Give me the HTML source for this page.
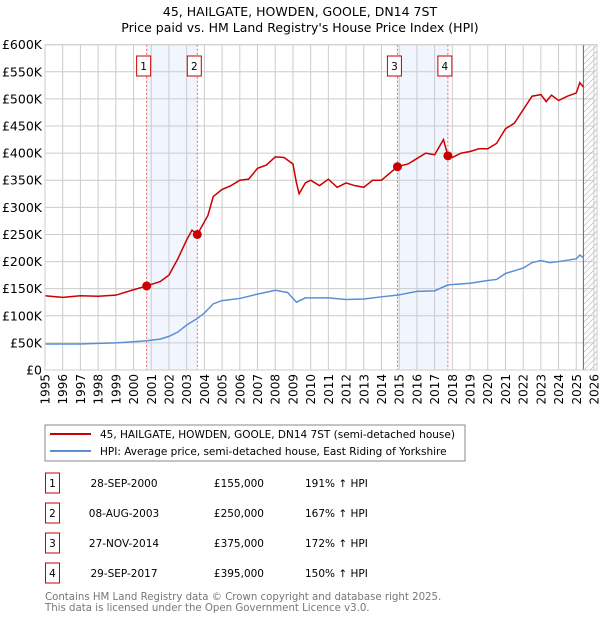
<!DOCTYPE html>
<html><head><meta charset="utf-8"><style>
body{margin:0;background:#fff;width:600px;height:620px;overflow:hidden;font-family:"DejaVu Sans","Liberation Sans",sans-serif}
svg text{font-family:"DejaVu Sans","Liberation Sans",sans-serif}
</style></head><body>
<svg id="chart" width="600" height="620" xmlns="http://www.w3.org/2000/svg">
<text x="300" y="16" text-anchor="middle" font-size="12.5">45, HAILGATE, HOWDEN, GOOLE, DN14 7ST</text>
<text x="300" y="32" text-anchor="middle" font-size="12.5">Price paid vs. HM Land Registry's House Price Index (HPI)</text>
<g id="plot"></g>
<g>
<rect x="45" y="425" width="420" height="36" fill="#fff" stroke="#888"/>
<line x1="50" y1="434" x2="91" y2="434" stroke="#cc0000" stroke-width="2"/>
<text x="100" y="438" font-size="10.5">45, HAILGATE, HOWDEN, GOOLE, DN14 7ST (semi-detached house)</text>
<line x1="50" y1="451" x2="91" y2="451" stroke="#5b8fd4" stroke-width="2"/>
<text x="100" y="455" font-size="10.5">HPI: Average price, semi-detached house, East Riding of Yorkshire</text>
</g>
<g id="table" font-size="10.5"></g>
<text x="45" y="600" font-size="10.2" fill="#777">Contains HM Land Registry data © Crown copyright and database right 2025.</text>
<text x="45" y="611" font-size="10.2" fill="#777">This data is licensed under the Open Government Licence v3.0.</text>
</svg>
<script>
const redYears=[1995,1996,1997,1998,1999,2000,2000.74,2001.5,2002,2002.5,2003,2003.3,2003.6,2004.2,2004.5,2005,2005.5,2006,2006.5,2007,2007.5,2008,2008.5,2009,2009.2,2009.35,2009.7,2010,2010.5,2011,2011.5,2012,2012.5,2013,2013.5,2014,2014.9,2015.5,2016,2016.5,2017,2017.5,2017.75,2018,2018.5,2019,2019.5,2020,2020.5,2021,2021.5,2022,2022.5,2023,2023.3,2023.6,2024,2024.5,2025,2025.2,2025.4];
const redValues=[137,134,137,136,138,148,155,163,175,205,240,258,250,285,320,333,340,350,352,372,378,393,392,380,345,325,345,350,340,352,337,345,340,337,350,350,375,380,390,400,397,425,395,392,400,403,408,408,418,445,455,480,505,508,495,507,497,505,511,530,522];
const hpiYears=[1995,1997,1998,1999,2000,2000.74,2001.5,2002,2002.5,2003,2003.6,2004,2004.5,2005,2006,2007,2008,2008.7,2009.2,2009.7,2011,2012,2013,2014,2014.9,2016,2017,2017.75,2019,2020,2020.5,2021,2022,2022.5,2023,2023.5,2024,2025,2025.2,2025.4];
const hpiValues=[48,48,49,50,52,54,57,62,70,83,95,105,122,128,132,140,147,143,125,133,133,130,131,135,138,145,146,157,160,165,167,178,188,198,202,198,200,205,212,207];
const saleLabels=["1","2","3","4"];
const saleYears=[2000.74,2003.6,2014.9,2017.75];
const saleValues=[155,250,375,395];
const saleDates=["28-SEP-2000","08-AUG-2003","27-NOV-2014","29-SEP-2017"];
const salePrices=["£155,000","£250,000","£375,000","£395,000"];
const salePct=["191% ↑ HPI","167% ↑ HPI","172% ↑ HPI","150% ↑ HPI"];
const yTicks=[0,50,100,150,200,250,300,350,400,450,500,550,600];
const xTicks=[1995,1996,1997,1998,1999,2000,2001,2002,2003,2004,2005,2006,2007,2008,2009,2010,2011,2012,2013,2014,2015,2016,2017,2018,2019,2020,2021,2022,2023,2024,2025,2026];

const L=45,R=594,T=44.7,B=370;
const x=y=>L+(y-1995)/(2026-1995)*(R-L);
const yv=v=>B-v/600*(B-T);
const NS="http://www.w3.org/2000/svg";
const plot=document.getElementById('plot');
function mk(tag,attrs,parent){const e=document.createElementNS(NS,tag);for(const k in attrs)e.setAttribute(k,attrs[k]);(parent||plot).appendChild(e);return e;}

for(let i=0;i<4;i+=2){
 const r=mk('rect',{x:x(saleYears[i]),y:T,width:x(saleYears[i+1])-x(saleYears[i]),height:B-T,fill:'#eef3fc',opacity:0.8});
 
 
}
yTicks.forEach(t=>{
 const l=mk('line',{x1:L,x2:R,y1:yv(t),y2:yv(t),stroke:'#cccccc'});
 
 
 const tx=mk('text',{x:L-3,y:yv(t)+4.5,'text-anchor':'end','font-size':'12.5'});
 tx.textContent=t===0?'£0':'£'+t+'K';
 
 
});
xTicks.forEach(t=>{
 const l=mk('line',{x1:x(t),x2:x(t),y1:T,y2:B,stroke:'#cccccc'});
 
 
 const tx=mk('text',{x:0,y:0,'text-anchor':'end','font-size':'12',transform:'translate('+(x(t)+4.5)+',374) rotate(-90)'});
 tx.textContent=t;
 
 
});
const defs=mk('defs',{});
const pat=mk('pattern',{id:'hatch',width:6,height:6,patternUnits:'userSpaceOnUse'},defs);
mk('path',{d:'M0,6 L6,0',stroke:'#bbb','stroke-width':0.7},pat);
const hx=x(2025.4);
const hr=mk('rect',{x:hx,y:T,width:R-hx+3,height:B-T,fill:'url(#hatch)'});


const hl=mk('line',{x1:hx,x2:hx,y1:T,y2:B,stroke:'#666'});


saleYears.forEach((s,i)=>{
 const l=mk('line',{x1:x(s),x2:x(s),y1:T,y2:B,stroke:'#e66','stroke-dasharray':'2,2'});
 
 
 const g=mk('g',{});
 
 
 mk('rect',{x:x(s)-10,y:56,width:14,height:20,fill:'#fff',stroke:'#cc0000'},g);
 const t=mk('text',{x:x(s)-3,y:70,'text-anchor':'middle','font-size':'10.5'},g);
 t.textContent=saleLabels[i];
});
function line(xs,vs,col,name){
 const p=mk('polyline',{points:xs.map((a,i)=>x(a)+','+yv(vs[i])).join(' '),fill:'none',stroke:col,'stroke-width':1.5});
 
 
}
line(hpiYears,hpiValues,'#5b8fd4','hpi-line');
line(redYears,redValues,'#cc0000','price-paid-line');
saleYears.forEach((s,i)=>{
 const c=mk('circle',{cx:x(s),cy:yv(saleValues[i]),r:4.5,fill:'#cc0000'});
 
 
});
const ax=mk('rect',{x:L,y:T,width:R-L+3,height:B-T,fill:'none',stroke:'#ccc'});


const tb=document.getElementById('table');
saleLabels.forEach((lab,i)=>{
 const cy=483+i*30;
 const g=mk('g',{},tb);
 
 
 mk('rect',{x:45.5,y:cy-10,width:14,height:20,fill:'#fff',stroke:'#cc0000'},g);
 const t0=mk('text',{x:52.5,y:cy+4,'text-anchor':'middle'},g);t0.textContent=lab;
 const t1=mk('text',{x:124,y:cy+4,'text-anchor':'middle'},g);t1.textContent=saleDates[i];
 const t2=mk('text',{x:264,y:cy+4,'text-anchor':'end'},g);t2.textContent=salePrices[i];
 const t3=mk('text',{x:305,y:cy+4},g);t3.textContent=salePct[i];
});
</script>
</body></html>
